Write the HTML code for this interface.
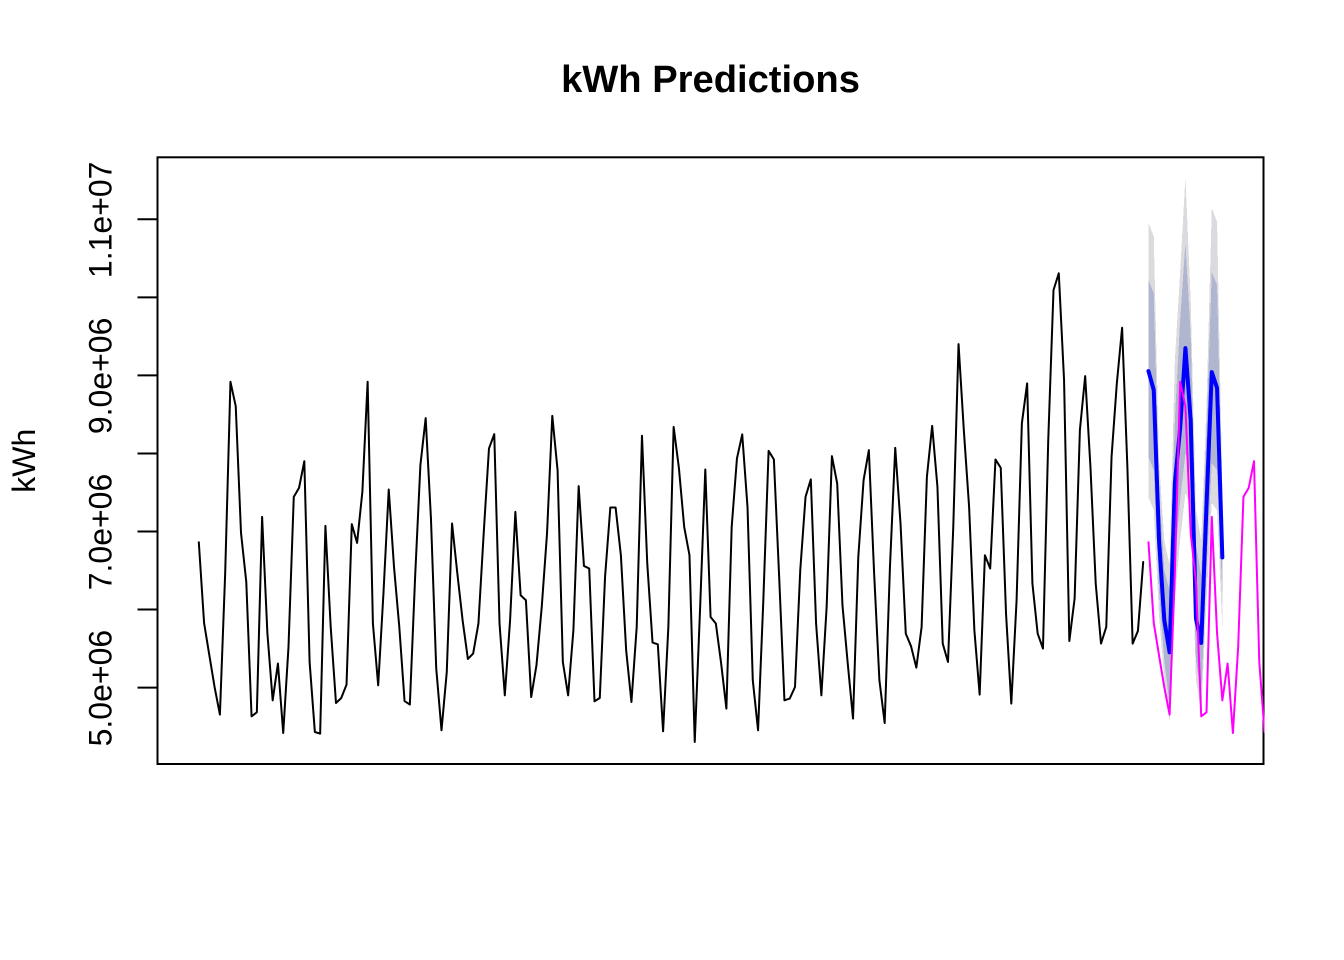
<!DOCTYPE html>
<html lang="en">
<head>
<meta charset="utf-8">
<title>kWh Predictions</title>
<style>
html,body{margin:0;padding:0;background:#fff;width:1344px;height:960px;overflow:hidden}
svg{display:block}
text{font-family:"Liberation Sans",Arial,sans-serif;fill:#000}
</style>
</head>
<body>
<svg id="chart" xmlns="http://www.w3.org/2000/svg" width="1344" height="960" viewBox="0 0 1344 960">
  <defs>
    <clipPath id="plot-clip"><rect x="157.5" y="157.3" width="1107" height="606.7"/></clipPath>
  </defs>
  <rect x="0" y="0" width="1344" height="960" fill="#fff"/>
  <text x="710.5" y="92" text-anchor="middle" font-size="38.15" font-weight="700">kWh Predictions</text>
  <text transform="translate(35 460.7) rotate(-90)" text-anchor="middle" font-size="32">kWh</text>
  <g id="y-axis"></g>
  <rect x="157.5" y="157.3" width="1106" height="606.7" fill="none" stroke="#000" stroke-width="2"/>
  <g id="marks" clip-path="url(#plot-clip)"></g>
</svg>
<script>
// All kWh values are in millions of kWh.
const observed = [
6.863,5.828,5.414,5.004,4.654,6.465,8.918,8.606,6.982,6.354,4.632,4.683,
7.187,5.696,4.837,5.308,4.418,5.521,7.444,7.559,7.901,5.328,4.431,4.410,
7.072,5.777,4.803,4.867,5.038,7.094,6.854,7.508,8.918,5.821,5.029,6.209,
7.538,6.546,5.777,4.828,4.782,6.418,7.850,8.453,7.171,5.247,4.453,5.200,
7.103,6.465,5.863,5.367,5.436,5.821,6.978,8.064,8.247,5.821,4.901,5.863,
7.251,6.183,6.119,4.879,5.286,6.033,6.974,8.482,7.786,5.328,4.901,5.735,
7.581,6.559,6.526,4.824,4.867,6.418,7.308,7.308,6.696,5.478,4.815,5.777,
8.226,6.590,5.577,5.555,4.440,5.777,8.341,7.812,7.059,6.696,4.303,5.991,
7.795,5.905,5.821,5.312,4.731,7.059,7.936,8.244,7.315,5.094,4.453,6.119,
8.033,7.923,6.418,4.837,4.859,5.008,6.504,7.444,7.667,5.821,4.901,6.033,
7.965,7.615,6.055,5.308,4.603,6.674,7.658,8.042,6.462,5.094,4.546,6.546,
8.072,7.103,5.692,5.529,5.256,5.777,7.700,8.354,7.572,5.564,5.328,7.059,
9.401,8.299,7.315,5.735,4.910,6.696,6.526,7.923,7.815,5.949,4.795,6.119,
8.385,8.897,6.333,5.692,5.500,8.171,10.094,10.308,8.940,5.597,6.141,8.299,
8.991,7.828,6.333,5.564,5.777,7.956,8.897,9.610,7.828,5.564,5.726,6.610
];
const actual = [
6.863,5.828,5.414,5.004,4.654,6.465,8.918,8.606,6.982,6.354,4.632,4.683,
7.187,5.696,4.837,5.308,4.418,5.521,7.444,7.559,7.901,5.328,4.431
];
const forecast = [9.055,8.812,6.888,5.863,5.453,7.619,8.324,9.350,8.427,5.888,5.572,7.337,9.042,8.837,6.667];
const upper95 = [10.956,10.777,7.914,6.888,6.568,9.196,10.324,11.540,9.965,7.273,6.888,8.619,11.145,10.965,7.568];
const upper80 = [10.222,10.055,7.529,6.504,6.247,8.427,9.709,10.696,9.517,6.824,6.440,8.299,10.324,10.158,7.132];
const lower80 = [7.953,7.786,6.247,5.350,4.773,6.632,7.401,8.004,7.722,5.350,4.901,6.504,7.876,7.786,6.209];
const lower95 = [7.440,7.273,5.927,5.094,4.555,6.119,6.888,7.491,7.337,5.094,4.683,6.119,7.363,7.273,5.773];
const yTicks = [5,6,7,8,9,10,11];
const yTickLabels = ["5.0e+06","","7.0e+06","","9.0e+06","","1.1e+07"];
const forecastStart = 180;

const NS = "http://www.w3.org/2000/svg";
function xScale(i){ return 198.8 + 5.276 * i; }
function yScale(v){ return 687.6 - (v - 5) * 78.05; }
function linePoints(values, start){
  return values.map(function(v,i){ return xScale(start+i).toFixed(2)+","+yScale(v).toFixed(2); }).join(" ");
}
function bandPoints(upper, lower, start){
  const top = upper.map(function(v,i){ return xScale(start+i).toFixed(2)+","+yScale(v).toFixed(2); });
  const bottom = lower.map(function(v,i){ return xScale(start+i).toFixed(2)+","+yScale(v).toFixed(2); }).reverse();
  return top.concat(bottom).join(" ");
}
const marks = document.getElementById("marks");
const axis = document.getElementById("y-axis");

const observedLine = document.createElementNS(NS,"polyline");


observedLine.setAttribute("points", linePoints(observed,0));
observedLine.setAttribute("fill","none");
observedLine.setAttribute("stroke","#000");
observedLine.setAttribute("stroke-width","2");
observedLine.setAttribute("stroke-linejoin","round");
observedLine.setAttribute("stroke-linecap","round");
marks.appendChild(observedLine);

const band95 = document.createElementNS(NS,"polygon");


band95.setAttribute("points", bandPoints(upper95,lower95,forecastStart));
band95.setAttribute("fill","#dbdbdf");
band95.setAttribute("shape-rendering","crispEdges");
marks.appendChild(band95);

const band80 = document.createElementNS(NS,"polygon");


band80.setAttribute("points", bandPoints(upper80,lower80,forecastStart));
band80.setAttribute("fill","#b1b6d0");
band80.setAttribute("shape-rendering","crispEdges");
marks.appendChild(band80);

const forecastLine = document.createElementNS(NS,"polyline");


forecastLine.setAttribute("points", linePoints(forecast,forecastStart));
forecastLine.setAttribute("fill","none");
forecastLine.setAttribute("stroke","#0000ff");
forecastLine.setAttribute("stroke-width","4");
forecastLine.setAttribute("stroke-linejoin","round");
forecastLine.setAttribute("stroke-linecap","round");
marks.appendChild(forecastLine);

const actualLine = document.createElementNS(NS,"polyline");


actualLine.setAttribute("points", linePoints(actual,forecastStart));
actualLine.setAttribute("fill","none");
actualLine.setAttribute("stroke","#ff00ff");
actualLine.setAttribute("stroke-width","2");
actualLine.setAttribute("stroke-linejoin","round");
actualLine.setAttribute("stroke-linecap","round");
marks.appendChild(actualLine);

yTicks.forEach(function(t,i){
  const y = yScale(t);
  const tick = document.createElementNS(NS,"line");
  
  
  tick.setAttribute("x1","137.5");
  tick.setAttribute("x2","157.5");
  tick.setAttribute("y1",y);
  tick.setAttribute("y2",y);
  tick.setAttribute("stroke","#000");
  tick.setAttribute("stroke-width","2");
  axis.appendChild(tick);
  if(yTickLabels[i]){
    const label = document.createElementNS(NS,"text");
    
    
    label.setAttribute("transform","translate(111.5 "+(y+0.5)+") rotate(-90)");
    label.setAttribute("text-anchor","middle");
    label.setAttribute("font-size","32");
    label.textContent = yTickLabels[i];
    axis.appendChild(label);
  }
});
</script>
</body>
</html>
